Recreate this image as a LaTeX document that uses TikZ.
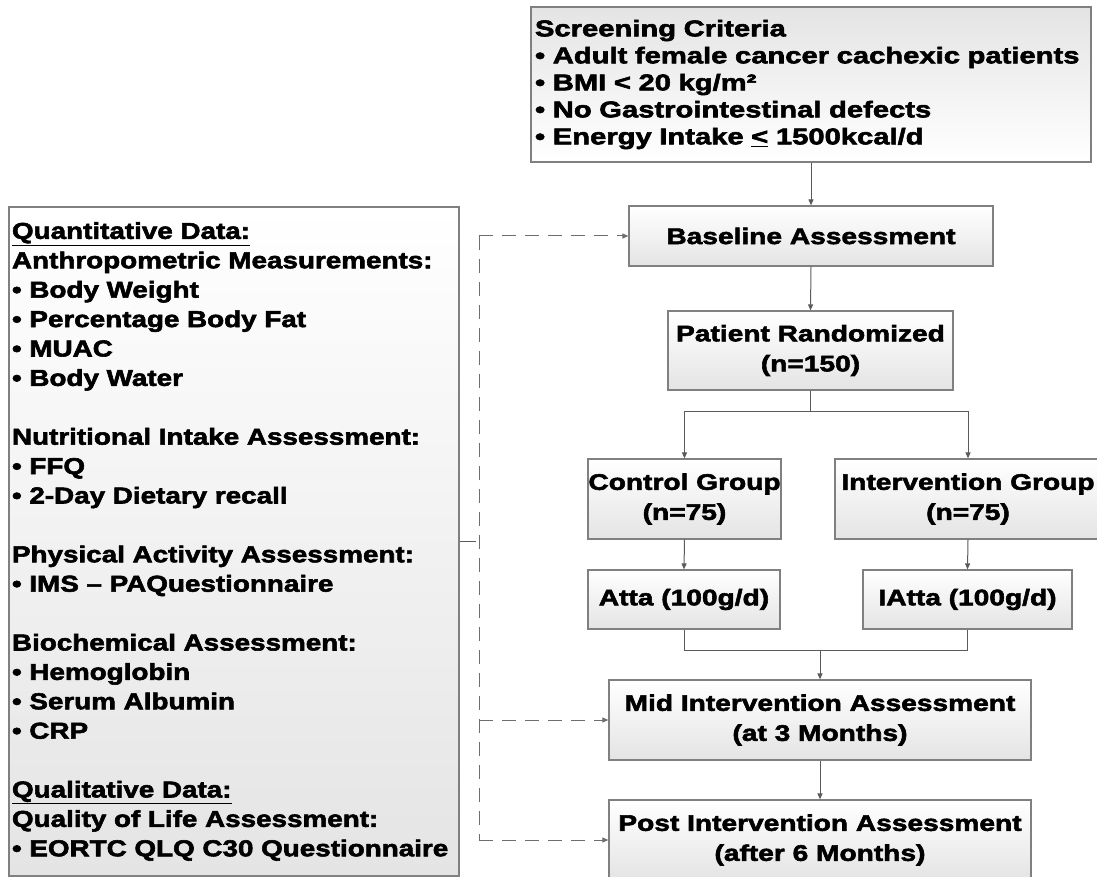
\documentclass[tikz,border=0pt]{standalone}
\usepackage{fontspec}
\usetikzlibrary{arrows.meta}
% heavy, slightly widened sans for the flow boxes and the measurement list
\newfontfamily\flowfont[FakeStretch=1.25,FakeBold=2.5]{Liberation Sans Bold}
\newfontfamily\critfont[FakeStretch=1.28,FakeBold=2.5]{Liberation Sans Bold}
\newfontfamily\listfont[FakeStretch=1.21,FakeBold=2.5]{Liberation Sans Bold}
\definecolor{boxline}{RGB}{128,128,128}
\definecolor{boxgray}{RGB}{228,228,228}
\definecolor{linkcol}{RGB}{90,90,90}
\definecolor{dashcol}{RGB}{110,110,110}
\begin{document}
\begin{tikzpicture}[x=1pt,y=-1pt,
  flowbox/.style={draw=boxline, line width=1.2pt, top color=white, bottom color=boxgray,
    inner sep=0pt, align=center,
    font=\flowfont\fontsize{22.5}{30}\selectfont},
  link/.style={draw=linkcol, line width=1pt},
  linkarrow/.style={link, -{Triangle[length=6pt,width=5pt]}},
  dashlink/.style={draw=dashcol, line width=1pt, dash pattern=on 14pt off 9pt},
  dasharrow/.style={dashlink, -{Triangle[length=6pt,width=5pt]}}]
\useasboundingbox (0,0) rectangle (1097,877);

% inclusion criteria
\node[draw=boxline, line width=1.2pt, top color=boxgray, bottom color=white,
  minimum width=560pt, minimum height=155pt, inner xsep=4pt, inner ysep=0pt,
  text width=552pt, align=left,
  font=\critfont\fontsize{22.8}{27}\selectfont] (scr) at (811,84.5)
  {Screening Criteria\\
   • Adult female cancer cachexic patients\\
   • BMI < 20 kg/m²\\
   • No Gastrointestinal defects\\
   • Energy Intake \underline{<} 1500kcal/d};

% study flow
\node[flowbox, minimum width=364pt, minimum height=60pt] (base) at (811,236) {Baseline Assessment};
\node[flowbox, minimum width=285pt, minimum height=79pt] (rand) at (810.5,350.5) {Patient Randomized\\(n=150)};
\node[flowbox, minimum width=193pt, minimum height=80pt] (ctrl) at (684.5,499) {Control Group\\(n=75)};
\node[flowbox, minimum width=266pt, minimum height=80pt] (intv) at (968,499) {Intervention Group\\(n=75)};
\node[flowbox, minimum width=192pt, minimum height=59pt] (atta) at (684,599.5) {Atta (100g/d)};
\node[flowbox, minimum width=209pt, minimum height=59pt] (iatta) at (967.5,599.5) {IAtta (100g/d)};
\node[flowbox, minimum width=422pt, minimum height=80pt] (mid) at (820,720) {Mid Intervention Assessment\\(at 3 Months)};
\node[flowbox, minimum width=422pt, minimum height=80pt] (post) at (820,840) {Post Intervention Assessment\\(after 6 Months)};

% measurements taken at each assessment
\node[draw=boxline, line width=1.2pt, top color=white, bottom color=boxgray,
  minimum width=450pt, minimum height=669pt, inner xsep=3pt, inner ysep=0pt,
  text width=444pt, align=left,
  font=\listfont\fontsize{23}{29.4}\selectfont] (data) at (234,541.5)
  {\underline{Quantitative Data:}\\
   Anthropometric Measurements:\\
   • Body Weight\\
   • Percentage Body Fat\\
   • MUAC\\
   • Body Water\\
   \mbox{}\\
   Nutritional Intake Assessment:\\
   • FFQ\\
   • 2-Day Dietary recall\\
   \mbox{}\\
   Physical Activity Assessment:\\
   • IMS – PAQuestionnaire\\
   \mbox{}\\
   Biochemical Assessment:\\
   • Hemoglobin\\
   • Serum Albumin\\
   • CRP\\
   \mbox{}\\
   \underline{Qualitative Data:}\\
   Quality of Life Assessment:\\
   • EORTC QLQ C30 Questionnaire};

% main flow connectors
\draw[linkarrow] (scr.south) -- (base.north);
\draw[linkarrow] (base.south) -- (rand.north);
\coordinate (split) at (810.5,411);
\draw[link] (rand.south) -- (split);
\draw[linkarrow] (split) -| (ctrl.north);
\draw[linkarrow] (split) -| (intv.north);
\draw[linkarrow] (ctrl.south) -- (atta.north);
\draw[linkarrow] (intv.south) -- (iatta.north);
\coordinate (join) at (820,650);
\draw[link] (atta.south) |- (join);
\draw[link] (iatta.south) |- (join);
\draw[linkarrow] (join) -- (mid.north);
\draw[linkarrow] (mid.south) -- (post.north);

% measurement feed to the three assessments
\coordinate (rail) at (479,0);
\coordinate (tap) at (476,541.5);
\draw[link] (data.east) -- (tap);
\draw[dashlink] (rail |- base.west) -- (rail |- post.west);
\draw[dasharrow] (rail |- base.west) -- (base.west);
\draw[dasharrow] (rail |- mid.west) -- (mid.west);
\draw[dasharrow] (rail |- post.west) -- (post.west);
\end{tikzpicture}
\end{document}
